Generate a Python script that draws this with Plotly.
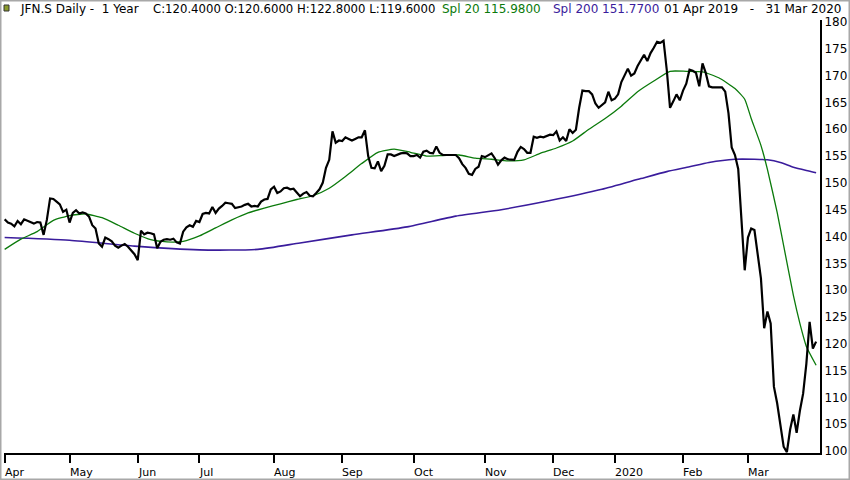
import plotly.graph_objects as go

# x axis is trading-day index (0 = 01 Apr 2019), ticks at first session of each month
month_labels = ["Apr", "May", "Jun", "Jul", "Aug", "Sep", "Oct", "Nov", "Dec", "2020", "Feb", "Mar"]
month_start = [0, 20, 41, 60, 83, 104, 126, 148, 169, 188, 209, 229]

# daily close
close = [
    143.2, 142.6, 142.4, 141.9, 142.9, 142.3, 143.2, 142.9, 142.7, 142.4,
    142.7, 142.6, 140.3, 143.1, 147.1, 147.0, 146.5, 146.0, 144.6, 145.0,
    142.6, 144.4, 144.9, 144.3, 144.5, 144.3, 143.7, 142.1, 141.5, 138.7,
    138.1, 139.8, 139.5, 139.1, 138.3, 137.9, 138.3, 138.6, 138.1, 137.3,
    136.7, 135.6, 141.1, 140.4, 140.7, 140.6, 140.4, 137.8, 139.0, 139.4,
    139.5, 139.4, 139.6, 138.9, 138.7, 140.9, 141.7, 142.1, 141.8, 142.9,
    142.7, 144.2, 144.4, 144.3, 145.5, 144.4, 145.2, 145.7, 146.3, 146.2,
    146.1, 145.3, 145.4, 145.6, 145.9, 146.1, 145.6, 145.7, 145.6, 146.5,
    146.9, 147.0, 148.8, 149.3, 148.1, 148.4, 149.0, 149.1, 148.8, 148.9,
    148.2, 147.5, 148.0, 148.3, 147.6, 147.5, 148.1, 148.8, 150.0, 152.8,
    154.3, 159.6, 157.5, 157.9, 157.8, 158.5, 158.2, 157.9, 158.2, 158.5,
    158.5, 159.8, 155.0, 152.8, 152.7, 154.0, 152.2, 153.2, 155.3, 155.3,
    155.0, 155.3, 155.5, 155.6, 155.5, 155.0, 155.0, 155.2, 154.7, 155.8,
    156.0, 155.6, 155.5, 156.8, 155.6, 155.2, 155.2, 155.2, 155.1, 155.2,
    154.6, 153.5, 152.8, 151.7, 151.5, 152.6, 153.0, 155.0, 154.8, 155.1,
    155.5, 154.6, 153.4, 154.2, 154.7, 154.4, 154.3, 154.3, 155.8, 156.7,
    156.3, 155.6, 155.6, 158.6, 158.4, 158.6, 158.5, 158.7, 159.0, 158.9,
    159.6, 157.9, 158.5, 157.8, 160.0, 159.3, 159.9, 164.0, 167.2, 167.1,
    167.1, 166.5, 164.8, 164.0, 164.5, 165.0, 167.0, 165.4, 165.7, 166.5,
    168.8, 170.0, 171.3, 170.0, 170.4, 171.8, 173.0, 173.9, 172.7, 174.2,
    175.2, 176.3, 176.1, 176.5, 171.0, 164.0, 165.2, 166.5, 165.4, 167.2,
    168.5, 171.1, 170.9, 170.5, 168.0, 172.3, 170.5, 168.0, 167.8, 167.8,
    167.7, 167.8, 167.0, 163.0, 156.6, 155.2, 152.6, 144.0, 133.7, 139.8,
    141.5, 141.2, 137.0, 132.2, 122.9, 126.0, 123.8, 112.0, 108.9, 104.5,
    100.8, 99.8, 104.0, 106.8, 103.4, 107.5, 110.7, 116.3, 124.1, 119.1,
    120.4,
]

# 20-day simple average, read at sample days
spl20_day = [0, 5, 10, 15, 20, 25, 30, 35, 40, 45, 50, 55, 60, 65, 70, 75, 80, 85,
             90, 95, 100, 105, 110, 115, 120, 125, 130, 135, 140, 145, 150, 155,
             160, 165, 170, 175, 180, 185, 190, 195, 200, 205, 210, 215, 220, 225,
             228, 230, 233, 235, 238, 240, 243, 245, 247, 250]
spl20 = [137.6, 139.5, 140.9, 143.0, 143.9, 144.2, 143.5, 142.1, 140.6, 139.4,
         139.0, 139.1, 140.1, 141.6, 143.1, 144.4, 145.3, 146.1, 146.9, 147.6,
         149.0, 151.2, 153.6, 155.7, 156.3, 155.7, 155.0, 155.1, 155.2, 154.6,
         154.4, 154.1, 154.3, 155.5, 156.5, 157.8, 160.0, 162.0, 164.3, 167.0,
         169.0, 170.8, 170.8, 170.7, 169.6, 167.6, 165.6, 162.0, 157.0, 152.5,
         144.5, 138.3, 129.0, 123.8, 119.5, 116.0]

# 200-day simple average
spl200_day = [0, 20, 40, 60, 78, 91, 107, 124, 139, 153, 168, 184, 196, 204, 211,
              217, 225, 231, 235, 239, 243, 247, 250]
spl200 = [139.8, 139.3, 138.2, 137.5, 137.6, 138.8, 140.3, 141.8, 143.8, 145.0,
          146.7, 148.8, 150.8, 152.1, 153.0, 153.8, 154.4, 154.4, 154.3, 153.8,
          152.9, 152.3, 151.9]

price_ticks = [100, 105, 110, 115, 120, 125, 130, 135, 140, 145, 150, 155,
               160, 165, 170, 175, 180]

GREEN = "#0b7a0b"
BLUE = "#3a1c9c"
FONT = "DejaVu Sans"

fig = go.Figure()
fig.add_trace(go.Scatter(x=spl200_day, y=spl200, mode="lines",
                         line=dict(color=BLUE, width=1.6, shape="spline", smoothing=0.6)))
fig.add_trace(go.Scatter(x=spl20_day, y=spl20, mode="lines",
                         line=dict(color=GREEN, width=1.3, shape="spline", smoothing=0.5)))
fig.add_trace(go.Scatter(x=list(range(len(close))), y=close, mode="lines",
                         line=dict(color="black", width=2.2)))

fig.update_layout(
    width=850, height=480,
    margin=dict(l=4, r=30, t=20, b=27),
    paper_bgcolor="white", plot_bgcolor="white",
    showlegend=False,
    font=dict(family=FONT, size=11, color="black"),
)
fig.update_xaxes(
    range=[-0.2, 251.2], tickvals=month_start, showticklabels=False,
    ticks="outside", ticklen=8, tickwidth=2, tickcolor="black",
    showline=True, linewidth=2, linecolor="black",
    showgrid=False, zeroline=False,
)
fig.update_yaxes(
    side="right", range=[99.63, 180.37], tickvals=price_ticks,
    ticks="", showline=True, linewidth=2, linecolor="black",
    showgrid=False, zeroline=False, tickfont=dict(size=12),
)

# month names sit to the right of their tick
for day, name in zip(month_start, month_labels):
    fig.add_annotation(x=day, y=-(472 - 453) / 433, xref="x", yref="paper", text=name,
                       xanchor="left", yanchor="middle", showarrow=False,
                       xshift=-2, font=dict(size=11))

# header line: (text, colour, left pixel, font size)
header = [
    ("JFN.S Daily -&nbsp;&nbsp;1 Year", "black", 18, 12),
    ("C:120.4000 O:120.6000 H:122.8000 L:119.6000", "black", 151, 11.7),
    ("Spl 20 115.9800", GREEN, 440, 12),
    ("Spl 200 151.7700", BLUE, 551, 12),
    ("01 Apr 2019&nbsp;&nbsp;&nbsp;-&nbsp;&nbsp;&nbsp;31 Mar 2020", "black", 662, 12),
]
for text, color, px, size in header:
    fig.add_annotation(x=(px - 4) / 816, y=(453 - 9) / 433, xref="paper", yref="paper",
                       text=text, xanchor="left", yanchor="middle", showarrow=False,
                       font=dict(size=size, color=color))

# little chart icon and outer frame
fig.add_shape(type="rect", xref="paper", yref="paper",
              x0=(4 - 4) / 816, x1=(9 - 4) / 816, y0=(453 - 11) / 433, y1=(453 - 5) / 433,
              fillcolor="#8a9a2a", line=dict(color="#333333", width=1))
fig.add_shape(type="rect", xref="paper", yref="paper",
              x0=(0 - 4) / 816, x1=(850 - 4) / 816, y0=(453 - 480) / 433, y1=(453 - 0) / 433,
              line=dict(color="#a8a8a8", width=3))

# page body has an 8px default margin; drop it so the figure sits at the corner
fig.write_html("out.html", config={"displayModeBar": False},
               post_script="document.body.style.margin='0';")
